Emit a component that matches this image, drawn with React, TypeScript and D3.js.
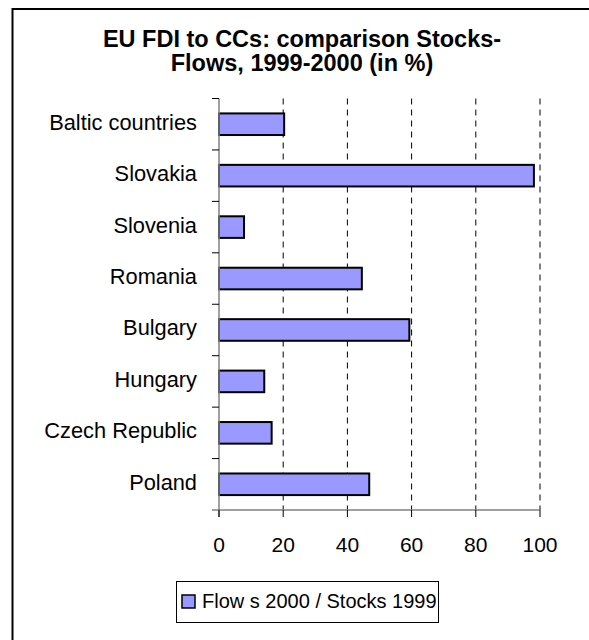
import React from "react";
import * as d3 from "d3";

const categories = [
  "Baltic countries",
  "Slovakia",
  "Slovenia",
  "Romania",
  "Bulgary",
  "Hungary",
  "Czech Republic",
  "Poland",
];
const values = [20.3, 98.1, 7.8, 44.5, 59.3, 14.1, 16.4, 46.8];
const xTicks = [0, 20, 40, 60, 80, 100];
const titleLines = ["EU FDI to CCs: comparison Stocks-", "Flows, 1999-2000 (in %)"];
const legendLabel = "Flow s 2000 / Stocks 1999";

const FONT = "Arial, 'Liberation Sans', sans-serif";

export default function App() {
  const x = d3.scaleLinear().domain([0, 100]).range([219, 540]);
  const y = d3
    .scaleBand<string>()
    .domain(categories)
    .range([98.5, 510])
    .paddingInner(0.58)
    .paddingOuter(0.29);
  const step = y.step();
  const boundaries = d3.range(categories.length).map((i) => 98.5 + i * step);

  return (
    <svg
      width={589}
      height={640}
      style={{ position: "absolute", left: 0, top: 0, background: "#fff" }}
    >
      <rect x={0} y={0} width={589} height={640} fill="#fff" />
      {/* outer frame */}
      <rect x={12.5} y={9} width={700} height={800} fill="none" stroke="#000" strokeWidth={2} />

      {/* title */}
      {titleLines.map((t, i) => (
        <text
          key={t}
          x={302}
          y={46.5 + i * 24.5}
          textAnchor="middle"
          fontFamily={FONT}
          fontWeight="bold"
          fontSize={23.5}
          fill="#000"
        >
          {t}
        </text>
      ))}

      {/* gridlines */}
      {xTicks.slice(1).map((t) => (
        <line
          key={"g" + t}
          x1={x(t)}
          x2={x(t)}
          y1={98.5}
          y2={510}
          stroke="#000"
          strokeWidth={1}
          strokeDasharray="6,5"
        />
      ))}

      {/* bars */}
      {categories.map((c, i) => (
        <rect
          key={c}
          x={x(0)}
          y={y(c)}
          width={x(values[i]) - x(0)}
          height={y.bandwidth()}
          fill="#9999FF"
          stroke="#000"
          strokeWidth={2}
        />
      ))}

      {/* y axis */}
      <line x1={x(0)} x2={x(0)} y1={98.5} y2={517} stroke="#808080" strokeWidth={1.5} />
      {boundaries.map((b, i) => (
        <line key={"yt" + i} x1={212} x2={x(0)} y1={b} y2={b} stroke="#000" strokeWidth={1} />
      ))}
      {/* x axis */}
      <line x1={212} x2={x(100)} y1={510} y2={510} stroke="#808080" strokeWidth={1.5} />
      {xTicks.map((t) => (
        <line key={"xt" + t} x1={x(t)} x2={x(t)} y1={510} y2={517} stroke="#000" strokeWidth={1} />
      ))}

      {/* category labels */}
      {categories.map((c) => (
        <text
          key={"l" + c}
          x={197}
          y={(y(c) as number) + y.bandwidth() / 2 + 5.5}
          textAnchor="end"
          fontFamily={FONT}
          fontSize={21.8}
          fill="#000"
        >
          {c}
        </text>
      ))}

      {/* tick labels */}
      {xTicks.map((t) => (
        <text
          key={"tl" + t}
          x={x(t)}
          y={552}
          textAnchor="middle"
          fontFamily={FONT}
          fontSize={21}
          fill="#000"
        >
          {t}
        </text>
      ))}

      {/* legend */}
      <rect x={176.5} y={581.5} width={262} height={41} fill="#fff" stroke="#000" strokeWidth={1} />
      <rect x={182} y={595} width={13} height={13} fill="#9999FF" stroke="#000" strokeWidth={1.5} />
      <text x={202} y={608} fontFamily={FONT} fontSize={20} fill="#000">
        {legendLabel}
      </text>
    </svg>
  );
}
